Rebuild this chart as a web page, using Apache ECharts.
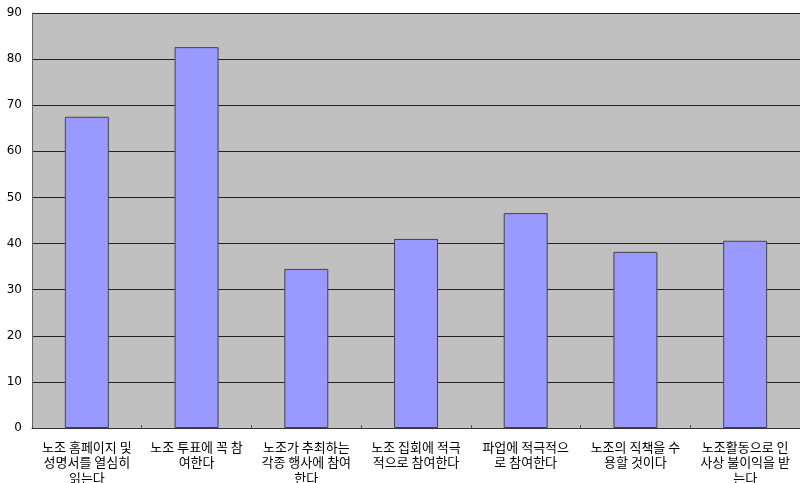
<!DOCTYPE html>
<html><head><meta charset="utf-8">
<script src="https://cdn.jsdelivr.net/npm/echarts@6/dist/echarts.min.js"></script>
<style>html,body{margin:0;padding:0;background:#fff}#c{width:800px;height:483px}</style>
</head><body><div id="c"></div>
<script>
const categories = [
  "노조 홈페이지 및\n성명서를 열심히\n읽는다",
  "노조 투표에 꼭 참\n여한다",
  "노조가 추최하는\n각종 행사에 참여\n한다",
  "노조 집회에 적극\n적으로 참여한다",
  "파업에 적극적으\n로 참여한다",
  "노조의 직책을 수\n용할 것이다",
  "노조활동으로 인\n사상 불이익을 받\n는다"
];
const values = [67.5, 82.6, 34.5, 41.0, 46.6, 38.2, 40.6];
const yTicks = [0, 10, 20, 30, 40, 50, 60, 70, 80, 90];

const chart = echarts.init(document.getElementById('c'), null, {renderer: 'canvas'});
chart.setOption({
  animation: false,
  grid: {left: 32, right: 0, top: 13, bottom: 55, show: true, backgroundColor: '#c0c0c0', borderWidth: 0, containLabel: false, outerBoundsMode: 'none'},
  xAxis: {
    type: 'category', data: categories,
    axisLine: {show: true, lineStyle: {color: '#333', width: 1}},
    axisTick: {show: true, inside: true, length: 3, alignWithLabel: false, lineStyle: {color: '#555'}},
    axisLabel: {color: '#000', fontSize: 13, fontFamily: 'Noto Sans CJK KR', lineHeight: 15.5, margin: 11, interval: 0}
  },
  yAxis: {
    type: 'value', min: yTicks[0], max: yTicks[yTicks.length-1], interval: 10,
    axisLine: {show: true, lineStyle: {color: '#666', width: 1}},
    axisTick: {show: false},
    splitLine: {show: true, lineStyle: {color: '#222', width: 1}},
    axisLabel: {color: '#000', fontSize: 12, fontFamily: 'DejaVu Sans', margin: 10}
  },
  series: [{
    type: 'bar', data: values, barWidth: 44,
    itemStyle: {color: '#9999ff', borderColor: '#444', borderWidth: 1}
  }]
});
</script></body></html>
